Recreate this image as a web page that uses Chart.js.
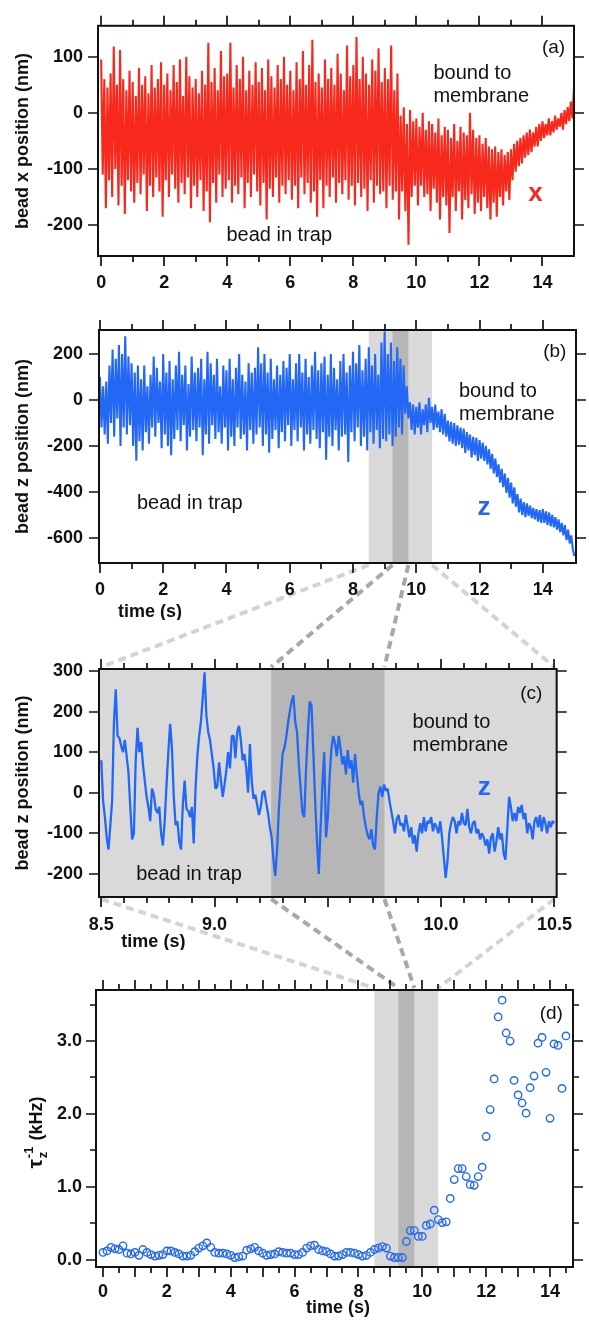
<!DOCTYPE html>
<html>
<head>
<meta charset="utf-8">
<script src="https://cdn.jsdelivr.net/npm/chart.js@4.4.1/dist/chart.umd.min.js"></script>
<style>
  body { margin: 0; background: #fff; }
  #fig { position: relative; width: 589px; height: 1326px; }
  #fig canvas { position: absolute; left: 0; }
</style>
</head>
<body>
<div id="fig">
  <canvas id="links" width="589" height="1326" style="top:0"></canvas>
  <canvas id="panelA" width="589" height="300" style="top:0"></canvas>
  <canvas id="panelB" width="589" height="320" style="top:300px"></canvas>
  <canvas id="panelC" width="589" height="330" style="top:620px"></canvas>
  <canvas id="panelD" width="589" height="376" style="top:950px"></canvas>
</div>
<script>
// bead traces, sampled every 0.05 s (alternating upper / lower excursions)
const dtTrace = 0.05;
const beadX = [
  95,-110,60,-170,45,-120,70,-150,118,-100,50,-165,112,-130,60,-180,40,-120,75,-140,
  55,-160,30,-125,80,-145,50,-110,65,-175,35,-130,85,-150,45,-115,60,-140,90,-185,
  50,-120,70,-150,40,-110,85,-135,55,-160,95,-125,30,-145,100,-115,65,-170,45,-130,
  60,-150,35,-120,75,-175,50,-140,125,-195,55,-125,80,-160,40,-110,110,-150,65,-135,
  70,-120,125,-160,45,-130,85,-145,60,-115,100,-170,40,-125,75,-150,50,-110,90,-140,
  55,-165,80,-125,40,-190,95,-135,65,-150,45,-115,85,-160,60,-130,100,-145,50,-120,
  75,-155,40,-130,90,-170,60,-115,110,-145,50,-125,85,-160,130,-140,55,-185,70,-120,
  45,-170,95,-130,60,-150,80,-115,50,-160,105,-125,70,-145,40,-120,120,-155,65,-130,
  85,-165,135,-125,60,-150,100,-135,70,-175,50,-120,95,-160,75,-130,115,-145,55,-140,
  80,-170,60,-130,120,-155,40,-140,70,-190,-5,-140,10,-175,-20,-235,5,-150,-15,-130,
  -10,-165,-25,-130,0,-150,-30,-145,-15,-175,-20,-135,-35,-160,-10,-190,-40,-150,-25,-165,
  -30,-214,-45,-150,-20,-175,-50,-140,-25,-190,-35,-155,-40,-170,0,-145,-30,-180,-45,-160,
  -40,-175,-55,-150,-45,-170,-60,-190,-65,-160,-60,-185,-70,-150,-65,-165,-75,-140,-70,-155,
  -65,-120,-55,-105,-50,-95,-45,-90,-40,-80,-35,-75,-30,-70,-35,-60,-25,-60,-20,-50,
  -15,-45,-20,-40,-10,-40,-15,-35,-5,-30,-10,-25,0,-30,5,-20,10,-15,20,-10,
  45
];
const beadZ = [
  100,-120,60,-150,80,-190,150,-100,220,-160,180,-80,240,-200,200,-120,278,-150,190,-110,
  160,-200,120,-265,150,-180,90,-220,150,-140,60,-190,110,-120,190,-160,140,-100,80,-210,
  200,-150,120,-200,170,-240,90,-170,150,-130,210,-180,110,-110,150,-220,70,-160,190,-130,
  120,-180,140,-120,180,-240,90,-150,210,-190,160,-110,110,-170,180,-140,60,-190,150,-120,
  130,-220,180,-160,90,-200,140,-120,200,-170,110,-150,80,-220,160,-130,120,-190,140,-150,
  230,-120,160,-200,200,-150,120,-230,180,-170,90,-130,150,-210,110,-140,170,-180,140,-110,
  200,-200,90,-130,160,-180,200,-120,120,-220,180,-150,100,-190,150,-130,210,-170,130,-210,
  160,-140,190,-260,110,-160,200,-200,140,-130,90,-220,170,-160,200,-150,120,-270,150,-140,
  210,-180,160,-120,240,-200,130,-160,180,-220,230,-140,150,-190,200,-130,110,-210,250,-170,
  300,-180,200,-150,250,-200,170,-160,230,-120,180,-150,150,-60,60,-80,-10,-130,-20,-150,
  -30,-120,-10,-150,-40,-110,-20,-140,10,-100,-30,-130,-20,-120,-50,-140,-40,-150,-60,-160,
  -90,-180,-95,-190,-100,-200,-110,-195,-120,-210,-125,-230,-140,-220,-150,-250,-160,-240,-165,-265,
  -175,-255,-185,-265,-200,-280,-215,-300,-235,-320,-255,-335,-280,-360,-300,-380,-320,-405,-340,-425,
  -360,-450,-380,-465,-410,-490,-430,-500,-445,-510,-450,-505,-460,-515,-470,-520,-475,-530,-480,-535,
  -475,-535,-485,-545,-490,-550,-500,-555,-510,-565,-520,-575,-535,-590,-545,-610,-565,-625,-590,-650,
  -680
];

// zoomed z trace, 8.5 s to 10.5 s, every 8 ms
const zoomStart = 8.5;
const dtZoom = 0.008;
const beadZZoom = [
  80,-20,-60,-110,-140,-80,-20,175,255,140,
  135,115,100,130,90,50,-35,-115,-100,80,
  160,100,125,70,30,-10,-35,-70,10,-5,
  -40,-50,-35,-100,-130,-70,20,100,170,110,
  -10,-80,-70,-120,-140,-30,30,-40,-45,-60,
  -35,-125,10,90,140,175,235,297,190,150,
  130,95,60,10,15,75,30,-10,20,55,
  100,60,140,140,85,150,165,130,80,95,
  60,0,120,30,-15,-5,-30,-55,-35,0,
  5,-25,-50,-85,-110,-165,-205,-140,-40,30,
  95,110,135,170,200,225,240,175,150,70,
  10,-50,-60,60,150,225,215,100,-20,-120,
  -200,-85,20,100,-110,-60,40,110,140,120,
  90,140,110,70,90,45,105,60,80,25,
  95,45,0,-30,-20,-60,-85,-105,-115,-90,
  -130,-140,-60,0,15,-10,20,5,10,-20,
  -45,-70,-100,-65,-55,-80,-75,-95,-55,-80,
  -110,-85,-125,-105,-145,-100,-75,-100,-60,-95,
  -70,-75,-60,-95,-75,-85,-100,-70,-110,-160,
  -210,-170,-100,-75,-60,-70,-100,-70,-80,-50,
  -75,-80,-40,-85,-100,-75,-70,-100,-90,-115,
  -100,-110,-130,-115,-150,-110,-100,-145,-120,-85,
  -115,-100,-150,-165,-90,-10,-35,-70,-50,-70,
  -35,-50,-30,-65,-50,-100,-75,-85,-115,-70,
  -60,-85,-55,-95,-60,-75,-100,-70,-85,-70,
  -75
];

// relaxation rate in z (kHz), one value every 0.125 s
const dtRate = 0.125;
const rateZ = [
  0.10,0.12,0.17,0.15,0.14,0.19,0.09,0.08,0.10,0.06,
  0.14,0.10,0.07,0.05,0.06,0.07,0.12,0.12,0.10,0.08,
  0.05,0.05,0.06,0.11,0.16,0.19,0.23,0.17,0.10,0.09,
  0.09,0.08,0.06,0.03,0.04,0.05,0.13,0.15,0.17,0.12,
  0.09,0.06,0.07,0.08,0.11,0.10,0.09,0.09,0.07,0.07,
  0.10,0.16,0.19,0.20,0.14,0.12,0.11,0.08,0.05,0.05,
  0.07,0.10,0.10,0.09,0.07,0.05,0.06,0.10,0.14,0.16,
  0.18,0.16,0.05,0.03,0.03,0.03,0.25,0.40,0.40,0.32,
  0.32,0.47,0.49,0.68,0.55,0.51,0.52,0.84,1.10,1.25,
  1.25,1.14,1.03,1.02,1.14,1.27,1.69,2.06,2.48,3.33,
  3.56,3.11,3.00,2.46,2.26,2.15,2.01,2.36,2.52,2.97,
  3.05,2.57,1.94,2.96,2.94,2.35,3.07
];

// shaded time windows (s)
const trapWindow = [8.5, 10.5];
const bindWindow = [9.25, 9.75];

// axis ticks
const timeLabels = [0, 2, 4, 6, 8, 10, 12, 14];
const timeMinor = [1, 3, 5, 7, 9, 11, 13];
const xPosTicks = [100, 0, -100, -200];
const zPosTicks = [200, 0, -200, -400, -600];
const zZoomTicks = [300, 200, 100, 0, -100, -200];
const zoomLabels = [8.5, 9.0, 10.0, 10.5];
const zoomMajor = [8.5, 9.0, 9.5, 10.0, 10.5];
const zoomMinor = [8.6, 8.7, 8.8, 8.9, 9.1, 9.2, 9.3, 9.4, 9.6, 9.7, 9.8, 9.9, 10.1, 10.2, 10.3, 10.4];
const rateTicks = [0, 1, 2, 3];
const rateMinor = [0.5, 1.5, 2.5, 3.5];
const rateTimeMajor = [0, 1, 2, 3, 4, 5, 6, 7, 8, 9, 10, 11, 12, 13, 14];
const rateTimeMinor = [0.5, 1.5, 2.5, 3.5, 4.5, 5.5, 6.5, 7.5, 8.5, 9.5, 10.5, 11.5, 12.5, 13.5, 14.5];

const FONT = '"Liberation Sans", Arial, Helvetica, sans-serif';
const RED = '#f7291d';
const BLUE = '#2268f4';
const LIGHT = '#d9d9d9';
const DARK = '#b6b6b6';
const INK = '#111';

Chart.defaults.font.family = FONT;
Chart.defaults.color = INK;

const toPoints = (vals, t0, dt) => vals.map((v, i) => ({ x: t0 + i * dt, y: v }));
const fixedTicks = list => s => { s.ticks = list.map(v => ({ value: v })); };

// grey windows behind the data
const bands = {
  id: 'bands',
  beforeDatasetsDraw(chart, args, o) {
    const { ctx, chartArea: a, scales: { x } } = chart;
    ctx.save();
    (o.items || []).forEach(b => {
      const x0 = Math.max(a.left, x.getPixelForValue(b.from));
      const x1 = Math.min(a.right, x.getPixelForValue(b.to));
      ctx.fillStyle = b.color;
      ctx.fillRect(x0, a.top, x1 - x0, a.bottom - a.top);
    });
    ctx.restore();
  }
};

// box round the plot with outward ticks on all four sides
const frame = {
  id: 'frame',
  afterDraw(chart, args, o) {
    const { ctx, chartArea: a, scales: { x, y } } = chart;
    ctx.save();
    ctx.strokeStyle = INK;
    ctx.lineWidth = 2;
    ctx.strokeRect(a.left, a.top, a.right - a.left, a.bottom - a.top);
    ctx.lineWidth = 1.7;
    ctx.beginPath();
    const xt = (list, len) => (list || []).forEach(v => {
      const p = Math.round(x.getPixelForValue(v));
      ctx.moveTo(p, a.top); ctx.lineTo(p, a.top - len);
      ctx.moveTo(p, a.bottom); ctx.lineTo(p, a.bottom + len);
    });
    const yt = (list, len) => (list || []).forEach(v => {
      const p = Math.round(y.getPixelForValue(v));
      ctx.moveTo(a.left, p); ctx.lineTo(a.left - len, p);
      ctx.moveTo(a.right, p); ctx.lineTo(a.right + len, p);
    });
    xt(o.xMajor, 10); xt(o.xMinor, 6);
    yt(o.yMajor, 10); yt(o.yMinor, 6);
    ctx.stroke();
    ctx.restore();
  }
};

// free text placed in data coordinates
const notes = {
  id: 'notes',
  afterDraw(chart, args, o) {
    const { ctx, scales: { x, y } } = chart;
    (o.items || []).forEach(n => {
      ctx.save();
      ctx.font = n.font;
      ctx.fillStyle = n.color || INK;
      ctx.textAlign = n.align || 'center';
      ctx.textBaseline = 'middle';
      ctx.fillText(n.text, x.getPixelForValue(n.x), y.getPixelForValue(n.y));
      ctx.restore();
    });
  }
};

// rotated "tau_z^-1 (kHz)" axis title
const rateTitle = {
  id: 'rateTitle',
  afterDraw(chart, args, o) {
    if (!o.show) return;
    const { ctx, chartArea: a } = chart;
    ctx.save();
    ctx.translate(42, (a.top + a.bottom) / 2 + 40);
    ctx.rotate(-Math.PI / 2);
    ctx.fillStyle = INK;
    ctx.textAlign = 'left';
    ctx.textBaseline = 'alphabetic';
    ctx.font = 'bold 21px ' + FONT;
    ctx.fillText('τ', 0, 0);
    let w = ctx.measureText('τ').width + 1;
    ctx.font = 'bold 13px ' + FONT;
    ctx.fillText('z', w, 5);
    ctx.fillText('-1', w, -9);
    w += Math.max(ctx.measureText('z').width, ctx.measureText('-1').width) + 1;
    ctx.font = 'bold 18px ' + FONT;
    ctx.fillText(' (kHz)', w, 0);
    ctx.restore();
  }
};

const NOTE = '20px ' + FONT;
const TAG = '19px ' + FONT;
const MARK = 'bold 26px ' + FONT;
const TITLE = 'bold 18px ' + FONT;

function panelOptions(p) {
  return {
    responsive: false,
    animation: false,
    devicePixelRatio: 1,
    events: [],
    layout: { padding: { top: p.top, right: p.right, bottom: 0, left: 0 } },
    scales: {
      x: {
        type: 'linear', min: p.xMin, max: p.xMax,
        grid: { display: false, drawTicks: false },
        border: { display: false },
        afterBuildTicks: fixedTicks(p.xLabels),
        afterFit: s => { s.height = p.bottom; },
        ticks: {
          padding: p.xPad, autoSkip: false, maxRotation: 0,
          font: { size: 18, weight: 'bold' },
          callback: p.xFmt || (v => String(v))
        }
      },
      y: {
        type: 'linear', min: p.yMin, max: p.yMax,
        grid: { display: false, drawTicks: false },
        border: { display: false },
        afterBuildTicks: fixedTicks(p.yLabels),
        afterFit: s => { s.width = p.left; },
        ticks: {
          padding: p.yPad, autoSkip: false,
          font: { size: 18, weight: 'bold' },
          callback: p.yFmt || (v => String(v))
        },
        title: p.yTitle
          ? { display: true, text: p.yTitle, color: INK, font: { size: 18, weight: 'bold' }, padding: { top: 12, bottom: 0 } }
          : { display: false }
      }
    },
    plugins: {
      legend: { display: false },
      tooltip: { enabled: false },
      bands: { items: p.bands || [] },
      frame: { xMajor: p.xMajor, xMinor: p.xMinor, yMajor: p.yLabels, yMinor: p.yMinor || [] },
      notes: { items: p.notes || [] },
      rateTitle: { show: !!p.rateTitle }
    }
  };
}

const tracePlugins = [bands, frame, notes, rateTitle];

function traceSet(points, color, width) {
  return {
    data: points, borderColor: color, borderWidth: width,
    pointRadius: 0, fill: false, tension: 0, borderJoinStyle: 'bevel'
  };
}

const chartA = new Chart(document.getElementById('panelA'), {
  type: 'line',
  data: { datasets: [traceSet(toPoints(beadX, 0, dtTrace), RED, 2.1)] },
  plugins: tracePlugins,
  options: panelOptions({
    top: 23, right: 15, bottom: 44, left: 98,
    xMin: -0.1, xMax: 15.0, yMin: -255, yMax: 155,
    xLabels: timeLabels, xMajor: timeLabels, xMinor: timeMinor,
    yLabels: xPosTicks, xPad: 16, yPad: 15,
    yTitle: 'bead x position (nm)',
    notes: [
      { text: '(a)', x: 14.35, y: 116, font: TAG },
      { text: 'bound to', x: 10.54, y: 70, font: NOTE, align: 'left' },
      { text: 'membrane', x: 10.54, y: 29, font: NOTE, align: 'left' },
      { text: 'x', x: 13.78, y: -145, font: MARK, color: RED },
      { text: 'bead in trap', x: 5.65, y: -219, font: NOTE }
    ]
  })
});

const chartB = new Chart(document.getElementById('panelB'), {
  type: 'line',
  data: { datasets: [traceSet(toPoints(beadZ, 0, dtTrace), BLUE, 2.1)] },
  plugins: tracePlugins,
  options: panelOptions({
    top: 30, right: 13, bottom: 57, left: 99,
    xMin: -0.03, xMax: 15.05, yMin: -710, yMax: 305,
    xLabels: timeLabels, xMajor: timeLabels, xMinor: timeMinor,
    yLabels: zPosTicks, xPad: 16, yPad: 16,
    yTitle: 'bead z position (nm)',
    bands: [
      { from: trapWindow[0], to: trapWindow[1], color: LIGHT },
      { from: bindWindow[0], to: bindWindow[1], color: DARK }
    ],
    notes: [
      { text: '(b)', x: 14.38, y: 209, font: TAG },
      { text: 'bound to', x: 11.35, y: 35, font: NOTE, align: 'left' },
      { text: 'membrane', x: 11.35, y: -65, font: NOTE, align: 'left' },
      { text: 'z', x: 12.14, y: -470, font: MARK, color: BLUE },
      { text: 'bead in trap', x: 2.84, y: -450, font: NOTE },
      { text: 'time (s)', x: 1.58, y: -922, font: TITLE }
    ]
  })
});

const chartC = new Chart(document.getElementById('panelC'), {
  type: 'line',
  data: { datasets: [traceSet(toPoints(beadZZoom, zoomStart, dtZoom), BLUE, 2.3)] },
  plugins: tracePlugins,
  options: panelOptions({
    top: 49, right: 17, bottom: 53, left: 99,
    xMin: 8.49, xMax: 10.51, yMin: -257, yMax: 305,
    xLabels: zoomLabels, xMajor: zoomMajor, xMinor: zoomMinor,
    yLabels: zZoomTicks, xPad: 17, yPad: 16,
    xFmt: v => v.toFixed(1),
    yTitle: 'bead z position (nm)',
    bands: [
      { from: 8.0, to: 11.0, color: LIGHT },
      { from: bindWindow[0], to: bindWindow[1], color: DARK }
    ],
    notes: [
      { text: '(c)', x: 10.398, y: 244, font: TAG },
      { text: 'bound to', x: 9.874, y: 174, font: NOTE, align: 'left' },
      { text: 'membrane', x: 9.874, y: 117, font: NOTE, align: 'left' },
      { text: 'z', x: 10.19, y: 12, font: MARK, color: BLUE },
      { text: 'bead in trap', x: 8.887, y: -202, font: NOTE },
      { text: 'time (s)', x: 8.73, y: -369, font: TITLE }
    ]
  })
});

const chartD = new Chart(document.getElementById('panelD'), {
  type: 'scatter',
  data: {
    datasets: [{
      data: toPoints(rateZ, 0, dtRate),
      showLine: false,
      pointStyle: 'circle',
      pointRadius: 3.7,
      pointBorderWidth: 1.4,
      borderWidth: 1.4,
      borderColor: BLUE,
      backgroundColor: 'rgba(0,0,0,0)',
      pointBackgroundColor: 'rgba(0,0,0,0)'
    }]
  },
  plugins: tracePlugins,
  options: panelOptions({
    top: 40, right: 16, bottom: 59, left: 96,
    xMin: -0.22, xMax: 14.72, yMin: -0.1, yMax: 3.7,
    xLabels: timeLabels, xMajor: rateTimeMajor, xMinor: rateTimeMinor,
    yLabels: rateTicks, yMinor: rateMinor, xPad: 14, yPad: 14,
    yFmt: v => v.toFixed(1),
    rateTitle: true,
    bands: [
      { from: trapWindow[0], to: trapWindow[1], color: LIGHT },
      { from: bindWindow[0], to: bindWindow[1], color: DARK }
    ],
    notes: [
      { text: '(d)', x: 14.04, y: 3.37, font: TAG },
      { text: 'time (s)', x: 7.36, y: -0.66, font: TITLE }
    ]
  })
});

// dashed guides joining each shaded window to the panel that expands it
const linkCtx = document.getElementById('links').getContext('2d');

function edgeAt(chart, t, side) {
  return [chart.scales.x.getPixelForValue(t), chart.canvas.offsetTop + chart.chartArea[side]];
}

function link(upper, lower, win, color) {
  linkCtx.save();
  linkCtx.strokeStyle = color;
  linkCtx.lineWidth = 4;
  linkCtx.setLineDash([8, 5]);
  win.forEach(t => {
    const [x0, y0] = edgeAt(upper, t, 'bottom');
    const [x1, y1] = edgeAt(lower, t, 'top');
    linkCtx.beginPath();
    linkCtx.moveTo(x0, y0 + 2);
    linkCtx.lineTo(x1, y1 - 2);
    linkCtx.stroke();
  });
  linkCtx.restore();
}

link(chartB, chartC, trapWindow, '#d3d3d3');
link(chartC, chartD, trapWindow, '#d3d3d3');
link(chartB, chartC, bindWindow, '#a8a8a8');
link(chartC, chartD, bindWindow, '#a8a8a8');
</script>
</body>
</html>
